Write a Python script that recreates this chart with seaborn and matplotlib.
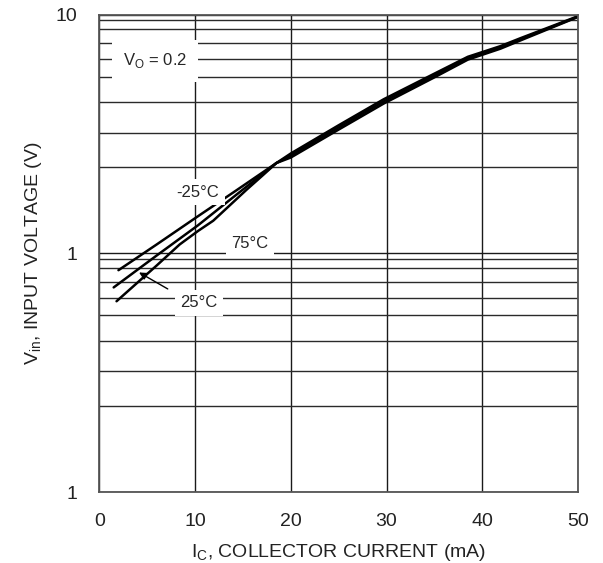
import pandas as pd
import seaborn as sns
import matplotlib.pyplot as plt
from matplotlib.ticker import NullFormatter

# curves (IC in mA, Vin in V)
ic_m25 = [2.0, 6, 10.3, 14, 18.5, 20, 25, 29.7, 35, 38.5, 41.9, 44, 50]
vin_m25 = [0.85, 1.09, 1.43, 1.80, 2.39, 2.62, 3.44, 4.42, 5.66, 6.66, 7.38, 7.97, 9.85]

ic_25 = [1.5, 6, 10.3, 14, 18.5, 20, 25, 29.7, 35, 38.5, 41.9, 44, 50]
vin_25 = [0.72, 0.98, 1.31, 1.72, 2.39, 2.57, 3.37, 4.33, 5.56, 6.57, 7.28, 7.88, 9.81]

ic_75 = [1.8, 6, 8.4, 10.3, 11.9, 15.4, 17, 18.5, 20, 25, 29.7, 35, 38.5, 41.9, 44, 50]
vin_75 = [0.63, 0.89, 1.09, 1.24, 1.37, 1.85, 2.11, 2.39, 2.52, 3.30, 4.24, 5.46, 6.48, 7.20, 7.80, 9.78]

x_ticks = [0, 10, 20, 30, 40, 50]
y_ticks = [0.1, 1, 10]
y_tick_labels = ['1', '1', '10']
# the printed grid is not a clean log grid, these are the fractions of each decade
grid_frac = [0.95, 0.87, 0.76, 0.65, 0.55, 0.43, 0.32, 0.23]

df = pd.concat([
    pd.DataFrame({'ic': ic_m25, 'vin': vin_m25, 'temp': '-25°C'}),
    pd.DataFrame({'ic': ic_25, 'vin': vin_25, 'temp': '25°C'}),
    pd.DataFrame({'ic': ic_75, 'vin': vin_75, 'temp': '75°C'}),
])

sns.set_style("white")
plt.rcParams['font.family'] = ['Liberation Sans', 'DejaVu Sans']
plt.rcParams['mathtext.fontset'] = 'custom'
plt.rcParams['mathtext.rm'] = 'Liberation Sans'

fig = plt.figure(figsize=(6.03, 5.63), dpi=100)
ax = fig.add_axes([0.1647, 0.126, 0.7938, 0.848])

sns.lineplot(data=df, x='ic', y='vin', hue='temp', palette=['black'] * 3,
             sort=False, estimator=None, legend=False, linewidth=1.8, ax=ax)

ax.set_yscale('log')
ax.set_xlim(0, 50)
ax.set_ylim(0.1, 10)

ax.set_xticks(x_ticks)
ax.set_yticks(y_ticks)
ax.set_yticklabels(y_tick_labels)
ax.set_yticks([f * d for d in (1, 10) for f in grid_frac], minor=True)
ax.yaxis.set_minor_formatter(NullFormatter())
ax.tick_params(which='both', length=0, labelsize=14, colors='#222222')
ax.tick_params(axis='x', pad=15)
ax.tick_params(axis='y', pad=16)

ax.set_axisbelow(True)
ax.grid(which='major', axis='both', color='#1a1a1a', linewidth=1.0)
ax.grid(which='minor', axis='y', color='#2a2a2a', linewidth=1.0)
for side in ['left', 'right', 'bottom', 'top']:
    ax.spines[side].set_color('#555555')
    ax.spines[side].set_linewidth(1.3)

ax.set_xlabel('I$_\\mathregular{C}$, COLLECTOR CURRENT (mA)', fontsize=14, color='#222222', labelpad=9)
ax.set_ylabel('V$_\\mathregular{in}$, INPUT VOLTAGE (V)', fontsize=14, color='#222222', labelpad=8)

box = dict(facecolor='white', edgecolor='none', pad=4)
ax.text(5.8, 6.4, 'V$_\\mathregular{O}$ = 0.2', fontsize=12, ha='center', va='center',
        bbox=dict(facecolor='white', edgecolor='none', pad=8))
ax.text(10.3, 1.80, '-25°C', fontsize=12, ha='center', va='center', bbox=box)
ax.text(15.7, 1.10, '75°C', fontsize=12, ha='center', va='center', bbox=box)
ax.text(10.4, 0.62, '25°C', fontsize=12, ha='center', va='center', bbox=box)
ax.annotate('', xy=(3.9, 0.843), xytext=(7.4, 0.70),
            arrowprops=dict(arrowstyle='-|>', color='black', lw=1.0, mutation_scale=11))

plt.savefig('out.png', dpi=100)
